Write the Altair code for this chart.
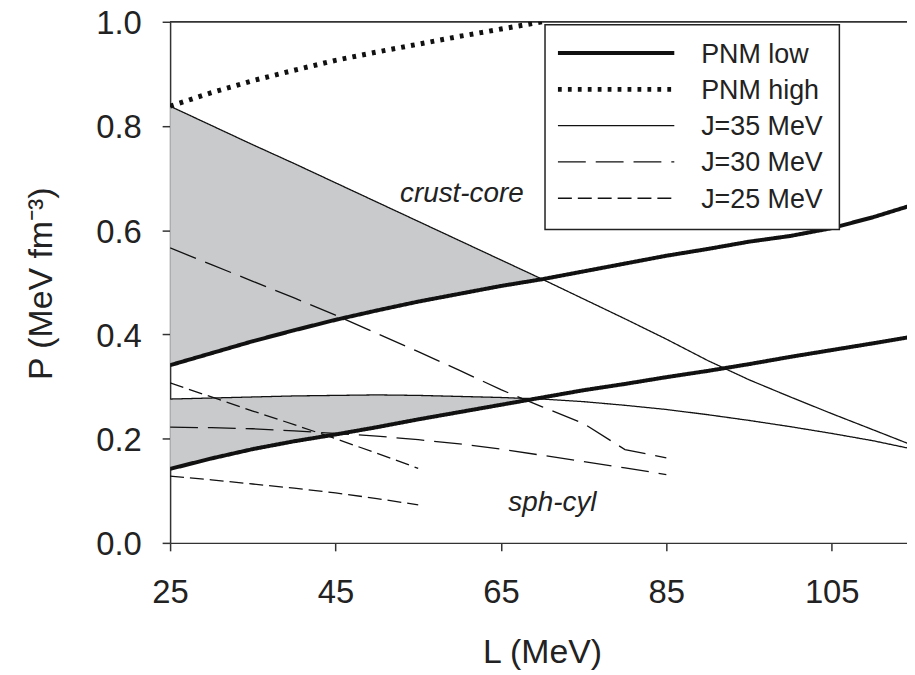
import altair as alt
import pandas as pd

# ---- legend categories and styles ----
SERIES = ["PNM low", "PNM high", "J=35 MeV", "J=30 MeV", "J=25 MeV"]
DASHES = [[1, 0], [3.8, 6.2], [1, 0], [28, 10], [14, 6]]
WIDTHS = [4, 5, 1.3, 1.3, 1.3]

x_ticks = [25, 45, 65, 85, 105]
y_ticks = [0.0, 0.2, 0.4, 0.6, 0.8, 1.0]

# ---- curves (L in MeV, P in MeV fm^-3) ----
L_grid = [25, 30, 35, 40, 45, 50, 55, 60, 65, 70, 75, 80, 85, 90, 95, 100, 105, 110, 114.5]
pnm_low_cc = [0.341, 0.364, 0.387, 0.408, 0.428, 0.446, 0.463, 0.478, 0.493, 0.506,
              0.521, 0.536, 0.551, 0.564, 0.578, 0.589, 0.604, 0.625, 0.647]
pnm_low_sc = [0.142, 0.162, 0.180, 0.195, 0.208, 0.222, 0.237, 0.251, 0.265, 0.279,
              0.293, 0.305, 0.318, 0.330, 0.343, 0.357, 0.370, 0.383, 0.395]
j35_cc = [0.838, 0.801, 0.764, 0.728, 0.691, 0.654, 0.617, 0.580, 0.543, 0.506,
          0.468, 0.430, 0.391, 0.350, 0.313, 0.280, 0.248, 0.217, 0.189]
j35_sc = [0.276, 0.278, 0.280, 0.282, 0.283, 0.284, 0.283, 0.281, 0.279, 0.276,
          0.271, 0.264, 0.256, 0.246, 0.235, 0.223, 0.210, 0.196, 0.181]

pnm_high_L = [25, 30, 35, 40, 45, 50, 55, 60, 65, 70]
pnm_high_cc = [0.838, 0.864, 0.887, 0.907, 0.926, 0.942, 0.957, 0.972, 0.986, 1.0]

j30_L = [25, 30, 35, 40, 45, 50, 55, 60, 65, 70, 75, 80, 85]
j30_cc = [0.566, 0.534, 0.502, 0.470, 0.437, 0.402, 0.367, 0.331, 0.294, 0.261, 0.229, 0.179, 0.163]
j30_sc = [0.222, 0.221, 0.219, 0.215, 0.210, 0.205, 0.198, 0.190, 0.180, 0.168, 0.156, 0.144, 0.131]

j25_L = [25, 30, 35, 40, 45, 50, 55]
j25_cc = [0.307, 0.280, 0.253, 0.227, 0.200, 0.172, 0.143]
j25_sc = [0.128, 0.121, 0.113, 0.105, 0.096, 0.085, 0.073]

# shaded bands: between J=35 line (top) and PNM low line (bottom) up to crossing
cc_band_n = 10          # grid points 25..70 (crossing at ~70)
sc_band_n = 9           # grid points 25..65
sc_cross_L, sc_cross_P = 69.2, 0.2768

# annotations
annot_text = ["crust-core", "sph-cyl"]
annot_L = [52.8, 65.9]
annot_P = [0.654, 0.0615]

# ---- build tables ----
curves = [
    ("pnm_low_cc", "PNM low", L_grid, pnm_low_cc),
    ("pnm_low_sc", "PNM low", L_grid, pnm_low_sc),
    ("pnm_high_cc", "PNM high", pnm_high_L, pnm_high_cc),
    ("j35_cc", "J=35 MeV", L_grid, j35_cc),
    ("j35_sc", "J=35 MeV", L_grid, j35_sc),
    ("j30_cc", "J=30 MeV", j30_L, j30_cc),
    ("j30_sc", "J=30 MeV", j30_L, j30_sc),
    ("j25_cc", "J=25 MeV", j25_L, j25_cc),
    ("j25_sc", "J=25 MeV", j25_L, j25_sc),
]
rows = []
for cid, ser, Ls, Ps in curves:
    for l, p in zip(Ls, Ps):
        rows.append({"L": l, "P": p, "curve": cid, "series": ser})
lines_df = pd.DataFrame(rows)

band_rows = []
for l, t, b in zip(L_grid[:cc_band_n], j35_cc[:cc_band_n], pnm_low_cc[:cc_band_n]):
    band_rows.append({"L": l, "top": t, "bot": b, "band": "cc"})
for l, t, b in zip(L_grid[:sc_band_n], j35_sc[:sc_band_n], pnm_low_sc[:sc_band_n]):
    band_rows.append({"L": l, "top": t, "bot": b, "band": "sc"})
band_rows.append({"L": sc_cross_L, "top": sc_cross_P, "bot": sc_cross_P, "band": "sc"})
band_df = pd.DataFrame(band_rows)

annot_df = pd.DataFrame({"label": annot_text, "L": annot_L, "P": annot_P})

# ---- scales / axes ----
xscale = alt.Scale(domain=[25, 114.1], nice=False, zero=False)
yscale = alt.Scale(domain=[0, 1], nice=False, zero=False)
xaxis = alt.Axis(values=x_ticks, title="L (MeV)", labelFlush=False, labelPadding=26,
                 labelOverlap=False, titleX=374, titleY=120, titleAlign="center",
                 titleBaseline="alphabetic")
yaxis = alt.Axis(values=y_ticks, format=".1f", title="P (MeV fm\u207b\u00b3)", labelFlush=False,
                 labelPadding=21, labelOffset=2, labelOverlap=False,
                 titleX=-119, titleY=263, titleAngle=270, titleAlign="center",
                 titleBaseline="alphabetic")

legend = alt.Legend(
    title=None, orient="none", legendX=377, legendY=3,
    padding=16.5, rowPadding=8.5, symbolOffset=0, labelOffset=113.5,
    symbolType="M-1.889,-0.17H11.111", symbolSize=324, symbolStrokeColor="#111",
    labelFont="Liberation Sans", labelFontSize=27, labelColor="#222", labelLimit=300,
    strokeColor="#222", fillColor="white",
)

bands = alt.Chart(band_df).mark_area(color="#c9cacc", clip=True).encode(
    x=alt.X("L:Q", scale=xscale, axis=xaxis, title="L (MeV)"),
    y=alt.Y("top:Q", scale=yscale, axis=yaxis, title="P (MeV fm\u207b\u00b3)"),
    y2="bot:Q",
    detail="band:N",
)

top_rule = alt.Chart(annot_df).mark_rule(color="#333", strokeWidth=1.5).encode(
    y=alt.datum(1.0)
)

lines = alt.Chart(lines_df).mark_line(color="#111", clip=True).encode(
    x=alt.X("L:Q", scale=xscale, axis=xaxis, title="L (MeV)"),
    y=alt.Y("P:Q", scale=yscale, axis=yaxis, title="P (MeV fm\u207b\u00b3)"),
    detail="curve:N",
    strokeDash=alt.StrokeDash("series:N", scale=alt.Scale(type="ordinal", domain=SERIES, range=DASHES),
                              legend=legend),
    strokeWidth=alt.StrokeWidth("series:N", scale=alt.Scale(type="ordinal", domain=SERIES, range=WIDTHS),
                                legend=legend),
)

texts = alt.Chart(annot_df).mark_text(
    font="Liberation Sans", fontStyle="italic", fontSize=28, align="left",
    baseline="alphabetic", color="#222"
).encode(
    x=alt.X("L:Q", scale=xscale, axis=xaxis, title="L (MeV)"),
    y=alt.Y("P:Q", scale=yscale, axis=yaxis, title="P (MeV fm\u207b\u00b3)"),
    text="label:N",
)

chart = alt.layer(bands, top_rule, lines, texts).properties(
    width=741, height=524,
    autosize=alt.AutoSizeParams(type="none"),
    padding={"left": 163, "top": 12, "right": 0, "bottom": 130},
    background="white",
).configure_view(strokeWidth=0).configure_axis(
    domainColor="#333", domainWidth=1.5, tickColor="#333", tickWidth=1.5, tickSize=8,
    labelFont="Liberation Sans", labelFontSize=33, labelColor="#222",
    titleFont="Liberation Sans", titleFontSize=34, titleFontWeight="normal", titleColor="#222",
    grid=False,
).configure_legend(strokeWidth=1.5)

chart.save("out.html", embed_options={"renderer": "svg", "actions": False})
